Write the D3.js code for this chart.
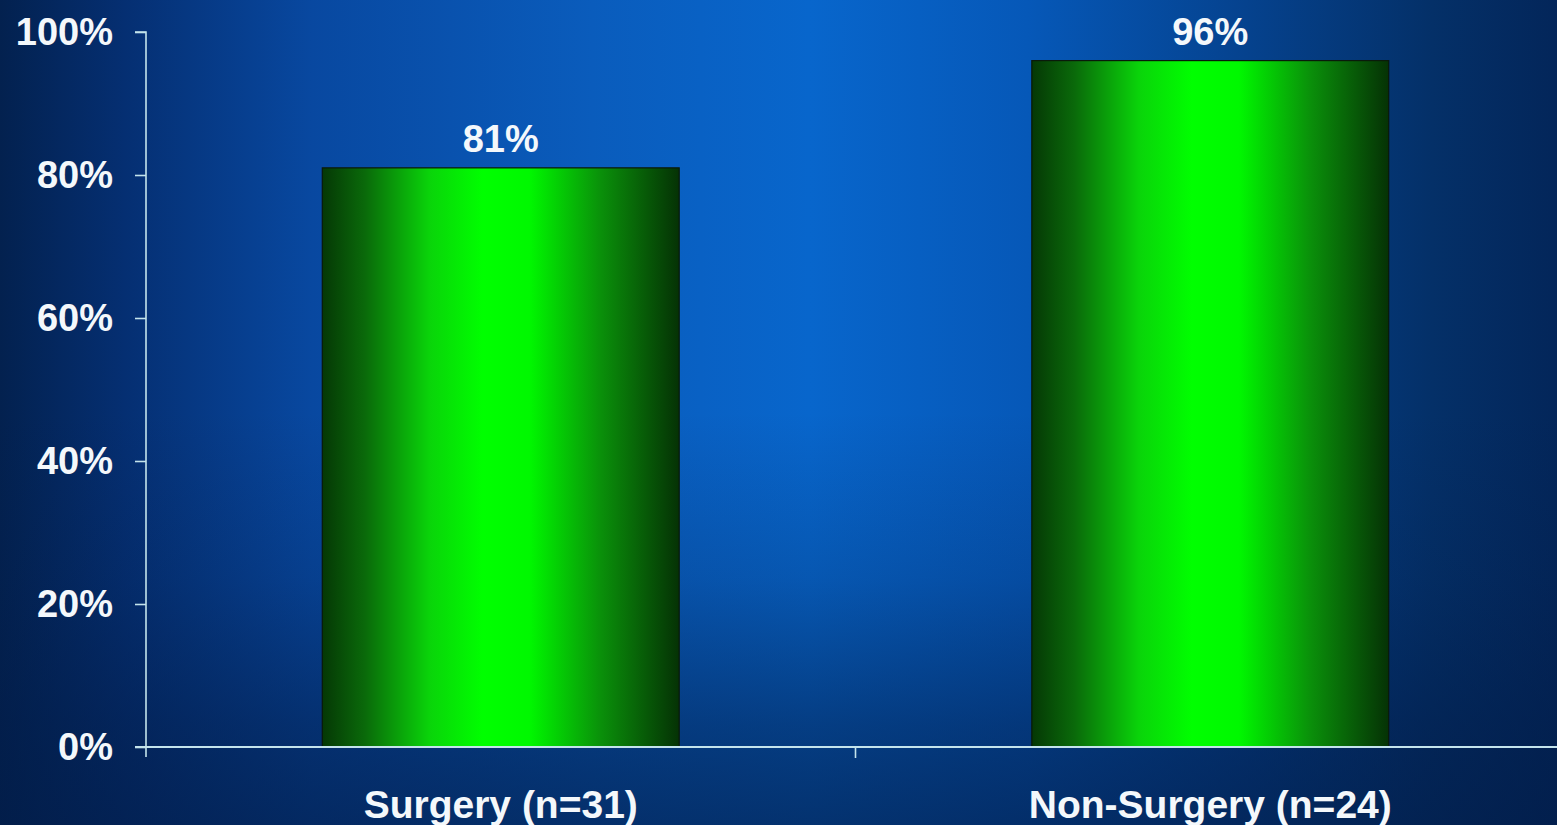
<!DOCTYPE html>
<html lang="en">
<head>
<meta charset="utf-8">
<title>Surgery vs Non-Surgery</title>
<script src="https://d3js.org/d3.v7.min.js"></script>
<style>
  body { margin: 0; background: #04245e; overflow: hidden; }
  svg text { font-family: "Liberation Sans", Arial, sans-serif; font-weight: bold; fill: #f4f8fb; }
</style>
</head>
<body>
<div id="vis"></div>
<script>
  // data
  const categories = ["Surgery (n=31)", "Non-Surgery (n=24)"];
  const values = [81, 96];
  const yTicks = [0, 20, 40, 60, 80, 100];

  const width = 1557, height = 825;
  const margin = { top: 32, right: -8, bottom: 78, left: 146 };

  const svg = d3.select('#vis').append('svg')
    .attr('width', width)
    .attr('height', height);

  const defs = svg.append('defs');

  // backdrop: bright blue in the middle, navy towards the sides
  const bgH = defs.append('linearGradient')
    .attr('id', 'bgH')
    .attr('x1', '0%').attr('x2', '100%').attr('y1', '0%').attr('y2', '0%');
  [['0%', '#03214f'], ['8%', '#052f72'], ['20%', '#0848a0'], ['38%', '#0a5cbc'],
   ['52%', '#0866cc'], ['66%', '#0658b8'], ['80%', '#05428e'], ['92%', '#043068'], ['100%', '#03265a']]
    .forEach(s => bgH.append('stop').attr('offset', s[0]).attr('stop-color', s[1]));

  // darker towards the bottom
  const bgV = defs.append('linearGradient')
    .attr('id', 'bgV')
    .attr('x1', '0%').attr('x2', '0%').attr('y1', '0%').attr('y2', '100%');
  [['0%', '#021c48', 0], ['50%', '#021c48', 0], ['70%', '#021c48', 0.2],
   ['88%', '#021c48', 0.55], ['100%', '#021c48', 0.7]]
    .forEach(s => bgV.append('stop').attr('offset', s[0]).attr('stop-color', s[1]).attr('stop-opacity', s[2]));

  // green cylinder look for the bars
  const bar = defs.append('linearGradient')
    .attr('id', 'bar')
    .attr('x1', '0%').attr('x2', '100%').attr('y1', '0%').attr('y2', '0%');
  [['0%', '#053805'], ['12%', '#0a6a0a'], ['30%', '#0ad40a'], ['45%', '#00ff00'],
   ['58%', '#00f800'], ['78%', '#0a900a'], ['100%', '#053205']]
    .forEach(s => bar.append('stop').attr('offset', s[0]).attr('stop-color', s[1]));

  svg.append('rect')
    .attr('width', width).attr('height', height)
    .attr('fill', 'url(#bgH)');
  svg.append('rect')
    .attr('width', width).attr('height', height)
    .attr('fill', 'url(#bgV)');

  const x = d3.scaleBand()
    .domain(categories)
    .range([margin.left, width - margin.right])
    .paddingInner(0)
    .paddingOuter(0);

  const y = d3.scaleLinear()
    .domain([0, 100])
    .range([height - margin.bottom, margin.top]);

  const barW = x.bandwidth() * 0.503;

  svg.selectAll('.bar')
    .data(values)
    .enter()
    .append('rect')
    .attr('class', 'bar')
    .attr('x', (d, i) => x(categories[i]) + (x.bandwidth() - barW) / 2)
    .attr('y', d => y(d))
    .attr('width', barW)
    .attr('height', d => y(0) - y(d))
    .attr('fill', 'url(#bar)')
    .attr('stroke', '#0a1a0a')
    .attr('stroke-width', 1.2);

  // value labels
  svg.selectAll('.val')
    .data(values)
    .enter()
    .append('text')
    .attr('class', 'val')
    .attr('x', (d, i) => x(categories[i]) + x.bandwidth() / 2)
    .attr('y', d => y(d) - 16)
    .attr('text-anchor', 'middle')
    .style('font-size', '38px')
    .text(d => d + '%');

  const axisColor = '#c4e4ec';

  // y axis
  const yAxis = svg.append('g')
    .attr('transform', `translate(${margin.left},0)`)
    .call(d3.axisLeft(y).tickValues(yTicks).tickFormat(d => d + '%').tickSize(11).tickPadding(22));
  yAxis.select('.domain').attr('stroke', axisColor).attr('stroke-width', 1.6)
    .attr('d', `M-11,${y(100)}H0V${y(0) + 10}`);
  yAxis.selectAll('.tick line').attr('stroke', axisColor).attr('stroke-width', 1.6);
  yAxis.selectAll('.tick text')
    .style('font-size', '38px')
    .attr('fill', '#f4f8fb');

  // x axis
  const xAxis = svg.append('g')
    .attr('transform', `translate(0,${y(0)})`)
    .call(d3.axisBottom(x).tickSize(0).tickPadding(43));
  xAxis.select('.domain').attr('stroke', axisColor).attr('stroke-width', 2.2)
    .attr('d', `M${margin.left - 11},0H${width}`);
  xAxis.selectAll('.tick text')
    .style('font-size', '39px')
    .attr('fill', '#f4f8fb');

  // tick between the two categories
  svg.append('line')
    .attr('x1', x(categories[1])).attr('x2', x(categories[1]))
    .attr('y1', y(0)).attr('y2', y(0) + 11)
    .attr('stroke', axisColor).attr('stroke-width', 1.6);
</script>
</body>
</html>
